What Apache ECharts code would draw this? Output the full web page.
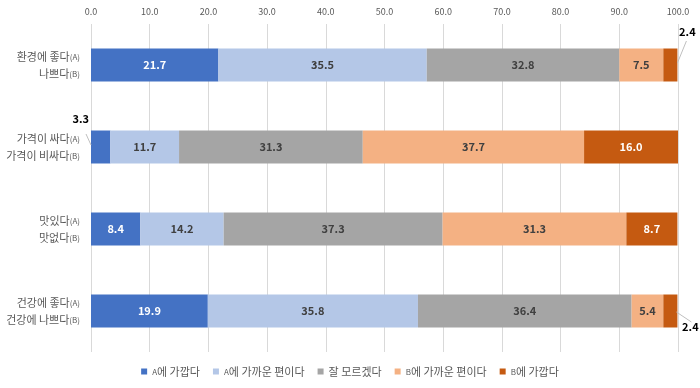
<!DOCTYPE html>
<html><head><meta charset="utf-8">
<script src="https://cdn.jsdelivr.net/npm/echarts@6/dist/echarts.min.js"></script>
<style>html,body{margin:0;padding:0;background:#fff}#c{width:700px;height:388px}</style>
</head><body><div id="c"></div>
<script>
const categories = ['환경에 좋다(A)\n나쁘다(B)', '가격이 싸다(A)\n가격이 비싸다(B)', '맛있다(A)\n맛없다(B)', '건강에 좋다(A)\n건강에 나쁘다(B)'];
const seriesNames = ['A에 가깝다', 'A에 가까운 편이다', '잘 모르겠다', 'B에 가까운 편이다', 'B에 가깝다'];
const aClose = [21.7, 3.3, 8.4, 19.9];
const aSomewhat = [35.5, 11.7, 14.2, 35.8];
const unsure = [32.8, 31.3, 37.3, 36.4];
const bSomewhat = [7.5, 37.7, 31.3, 5.4];
const bClose = [2.4, 16.0, 8.7, 2.4];
const xTicks = [0, 10, 20, 30, 40, 50, 60, 70, 80, 90, 100];

const colors = ['#4472C4', '#B4C7E7', '#A5A5A5', '#F4B183', '#C55A11'];
const labelColors = ['#ffffff', '#404040', '#404040', '#404040', '#ffffff'];
const values = [aClose, aSomewhat, unsure, bSomewhat, bClose];
const FONT = '"Noto Sans CJK KR", "Noto Sans", sans-serif';

// outside-label offsets for tiny segments (series-category)
const outside = {
  '0-1': {dx: -20, dy: -28, line: [[-5, -13], [0, -2]], edge: 'start'},
  '4-0': {dx: 17, dy: -33, line: [[9, -24], [0, -2]], edge: 'end'},
  '4-3': {dx: 20, dy: 16, line: [[14, 11], [-1, 1]], edge: 'end'}
};

function fmtCat(v) {
  return v.split('\n').map(l => {
    const m = l.match(/^(.*)\((A|B)\)$/);
    return m ? '{m|' + m[1] + '}{s|(' + m[2] + ')}' : '{m|' + l + '}';
  }).join('\n');
}
function fmtLegend(n) {
  const m = n.match(/^(A|B)(.*)$/);
  return m ? '{s|' + m[1] + '}{m|' + m[2] + '}' : '{m|' + n + '}';
}

const series = values.map((arr, si) => ({
  name: seriesNames[si],
  type: 'bar',
  stack: 'total',
  barWidth: 33,
  itemStyle: {color: colors[si]},
  data: arr.map((v, ci) => {
    const key = si + '-' + ci;
    if (outside[key]) {
      return {value: v, label: {show: true, color: '#000', position: 'inside'}};
    }
    return {value: v};
  }),
  label: {
    show: true, position: 'inside', color: labelColors[si],
    fontFamily: FONT, fontWeight: 'bold', fontSize: 11,
    formatter: p => p.value.toFixed(1)
  },
  labelLayout: p => {
    const o = outside[si + '-' + p.dataIndex];
    return o ? {dx: o.dx, dy: o.dy} : {};
  }
}));

const chart = echarts.init(document.getElementById('c'), null, {renderer: 'canvas'});
chart.setOption({
  animation: false,
  textStyle: {fontFamily: FONT},
  grid: {left: 91, right: 22, top: 24, bottom: 36, containLabel: false},
  xAxis: {
    type: 'value', position: 'top', min: 0, max: 100, interval: 10,
    axisLine: {show: false}, axisTick: {show: false},
    splitLine: {lineStyle: {color: '#d9d9d9', width: 1}},
    axisLabel: {color: '#595959', fontSize: 9, margin: 8, fontFamily: FONT, formatter: v => v.toFixed(1)}
  },
  yAxis: {
    type: 'category', data: categories, inverse: true,
    axisLine: {show: false}, axisTick: {show: false},
    axisLabel: {
      margin: 11, align: 'right', formatter: fmtCat,
      rich: {
        m: {fontSize: 11, color: '#595959', fontFamily: FONT, lineHeight: 17},
        s: {fontSize: 8, color: '#595959', fontFamily: FONT, lineHeight: 17}
      }
    }
  },
  legend: {
    bottom: 6, left: 'center', itemWidth: 6, itemHeight: 6, itemGap: 13,
    icon: 'rect',
    formatter: fmtLegend,
    textStyle: {
      color: '#595959', fontSize: 11, fontFamily: FONT,
      rich: {m: {fontSize: 11, color: '#595959', fontFamily: FONT}, s: {fontSize: 8, color: '#595959', fontFamily: FONT}}
    },
    data: seriesNames
  },
  series: series
});

// leader lines for outside labels, anchored on the bar segment edges via the axes
const lines = [];
Object.keys(outside).forEach(key => {
  const [si, ci] = key.split('-').map(Number);
  const o = outside[key];
  let start = 0;
  for (let k = 0; k < si; k++) start += values[k][ci];
  const edgeVal = o.edge === 'start' ? start : start + values[si][ci];
  const p = chart.convertToPixel({gridIndex: 0}, [edgeVal, ci]);
  lines.push({
    type: 'line', silent: true, z: 100,
    shape: {x1: p[0] + o.line[0][0], y1: p[1] + o.line[0][1], x2: p[0] + o.line[1][0], y2: p[1] + o.line[1][1]},
    style: {stroke: '#bfbfbf', lineWidth: 1}
  });
});
chart.setOption({graphic: lines});
</script></body></html>
